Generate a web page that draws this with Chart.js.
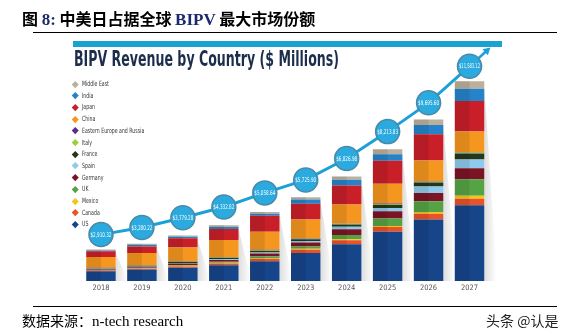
<!DOCTYPE html>
<html>
<head>
<meta charset="utf-8">
<script src="https://cdn.jsdelivr.net/npm/chart.js@4/dist/chart.umd.min.js"></script>
<style>
  html, body { margin:0; padding:0; background:#fff; }
  #wrap { position:relative; width:570px; height:335px; overflow:hidden; background:#fff; }
  #c { position:absolute; left:0; top:0; }
  .abs { position:absolute; white-space:nowrap; }
  #cnTitle { left:22px; top:6px; font:bold 16px "Noto Sans CJK SC", sans-serif; color:#000; }
  #cnTitle .en { font-family:"Liberation Serif", serif; font-weight:bold; color:#1b2a6b; font-size:17px; }
  .rule { position:absolute; height:1px; background:#000; }
  #band { left:73px; top:41px; width:429px; height:6px; background:#19a2d2; }
  #title { left:74px; top:47px; font:bold 21px "Liberation Sans Narrow","DejaVu Sans Condensed", sans-serif; color:#1c2e4c; transform-origin:0 0; }
  .lg { position:absolute; left:72px; width:120px; height:10px; white-space:nowrap; font:7.2px "Liberation Sans Narrow","DejaVu Sans Condensed", sans-serif; color:#333; line-height:10px; }
  .lg i { position:absolute; left:1px; top:2.5px; width:4.5px; height:4.5px; transform:rotate(45deg); }
  .lg span { position:absolute; left:10px; top:0; white-space:nowrap; transform-origin:0 50%; }
  #src { left:22px; top:310px; font:14px "Noto Sans CJK SC", sans-serif; color:#000; }
  #src .en { font-family:"Liberation Serif", serif; font-size:15px; }
  #wm { left:486px; top:310px; font:14px "Noto Sans CJK SC", sans-serif; color:#222; }
</style>
</head>
<body>
<div id="wrap">
  <canvas id="c" width="570" height="335"></canvas>
  <div id="cnTitle" class="abs">图 <span class="en">8:</span> 中美日占据全球 <span class="en">BIPV</span> 最大市场份额</div>
  <div class="rule" style="left:33px;top:32px;width:524px;"></div>
  <div id="band" class="abs"></div>
  <div id="title" class="abs">BIPV Revenue by Country ($ Millions)</div>
  <div id="legend"></div>
  <div class="rule" style="left:33px;top:306px;width:524px;"></div>
  <div id="src" class="abs">数据来源：<span class="en">n-tech research</span></div>
  <div id="wm" class="abs">头条 @认是</div>
</div>
<script>
// ---- data ----
const years = ['2018','2019','2020','2021','2022','2023','2024','2025','2026','2027'];
const countries = ['US','Canada','Mexico','UK','Germany','Spain','France','Italy','Eastern Europe and Russia','China','Japan','India','Middle East'];
const US      = [1835, 1922, 2004, 2142, 2347, 2772, 3233, 3883, 4513, 5250];
const Canada  = [41, 51, 77, 92, 128, 169, 205, 241, 292, 343];
const Mexico  = [15, 20, 31, 36, 46, 51, 51, 51, 102, 154];
const UK      = [15, 20, 41, 51, 82, 118, 220, 394, 548, 855];
const Germany = [41, 51, 77, 97, 143, 205, 292, 374, 425, 563];
const Spain   = [10, 15, 26, 36, 51, 87, 138, 169, 343, 461];
const France  = [31, 41, 61, 77, 97, 87, 118, 169, 205, 307];
const Italy   = [10, 10, 15, 20, 31, 26, 31, 31, 36, 51];
const EEurope = [10, 10, 15, 15, 20, 20, 20, 26, 26, 31];
const China   = [563, 630, 717, 886, 937, 973, 988, 1024, 1075, 1060];
const Japan   = [292, 343, 476, 563, 819, 819, 973, 1193, 1367, 1587];
const India   = [46, 77, 77, 113, 113, 220, 307, 343, 476, 630];
const MidEast = [41, 61, 61, 92, 92, 118, 169, 256, 292, 394];
const totals  = [2910.32, 3280.22, 3779.28, 4332.82, 5058.64, 5725.90, 6826.98, 8213.83, 9695.60, 11583.12];

const series = [US, Canada, Mexico, UK, Germany, Spain, France, Italy, EEurope, China, Japan, India, MidEast];
const colors = ['#17458a','#ea5229','#f7c31b','#56a346','#7d1426','#8fcaec','#25381c','#9ccf3c','#5b2d8c','#f5961f','#c91f29','#2683c9','#bcb09c'];

// ---- legend (HTML, top = Middle East) ----
const lg = document.getElementById('legend');
for (let i = countries.length - 1, row = 0; i >= 0; i--, row++) {
  const d = document.createElement('div');
  d.className = 'lg';
  d.style.top = (79 + row * 11.7) + 'px';
  d.innerHTML = '<i style="background:' + colors[i] + '"></i><span>' + countries[i] + '</span>';
  lg.appendChild(d);
}
// condense legend text so the longest entry is ~62px wide
const spans = lg.querySelectorAll('span');
let maxW = 0;
spans.forEach(s => { maxW = Math.max(maxW, s.offsetWidth); });
const lsc = Math.min(1, 62 / maxW);
spans.forEach(s => { s.style.transform = 'scaleX(' + lsc + ')'; });
// fit title width
const t = document.getElementById('title');
t.style.transform = 'scaleX(' + (265 / t.offsetWidth) + ')';

// ---- plugins ----
const shadowPlugin = {
  id: 'shadow',
  beforeDatasetsDraw(chart) {
    const ctx = chart.ctx, area = chart.chartArea;
    const top = chart.getDatasetMeta(series.length - 1);
    ctx.save();
    top.data.forEach(el => {
      const r = el.x + el.width / 2;
      const g = ctx.createLinearGradient(r, 0, r + 12, 0);
      g.addColorStop(0, 'rgba(0,0,0,0.13)');
      g.addColorStop(1, 'rgba(0,0,0,0)');
      ctx.fillStyle = g;
      ctx.beginPath();
      ctx.moveTo(r, el.y + 4);
      ctx.lineTo(r + 13, area.bottom);
      ctx.lineTo(r, area.bottom);
      ctx.closePath();
      ctx.fill();
    });
    ctx.restore();
  },
  afterDatasetDraw(chart, args) {
    const meta = args.meta;
    if (meta.type !== 'bar') return;
    const ctx = chart.ctx, area = chart.chartArea;
    ctx.save();
    ctx.beginPath();
    ctx.rect(area.left, area.top, area.right - area.left, area.bottom - area.top);
    ctx.clip();
    ctx.fillStyle = 'rgba(0,0,0,0.09)';
    meta.data.forEach(el => {
      const l = el.x - el.width / 2;
      const y1 = Math.min(el.y, el.base), y2 = Math.max(el.y, el.base);
      ctx.fillRect(l, y1, el.width / 2, y2 - y1);
    });
    ctx.restore();
  }
};

const lineLabels = {
  id: 'lineLabels',
  afterDatasetsDraw(chart) {
    const ctx = chart.ctx;
    const meta = chart.getDatasetMeta(series.length);
    const pts = meta.data;
    // arrow extension
    const a = pts[pts.length - 2], b = pts[pts.length - 1];
    const dx = b.x - a.x, dy = b.y - a.y, len = Math.hypot(dx, dy);
    const ux = dx / len, uy = dy / len;
    const sx = b.x + ux * 12, sy = b.y + uy * 12;
    const ex = b.x + ux * 28, ey = b.y + uy * 28;
    ctx.save();
    ctx.strokeStyle = '#1ba0d8'; ctx.lineWidth = 2.5;
    ctx.beginPath(); ctx.moveTo(sx, sy); ctx.lineTo(ex - ux * 3, ey - uy * 3); ctx.stroke();
    ctx.fillStyle = '#1ba0d8';
    ctx.beginPath();
    ctx.moveTo(ex, ey);
    ctx.lineTo(ex - ux * 7 - uy * 4, ey - uy * 7 + ux * 4);
    ctx.lineTo(ex - ux * 7 + uy * 4, ey - uy * 7 - ux * 4);
    ctx.closePath(); ctx.fill();
    // labels
    ctx.fillStyle = '#ffffff';
    ctx.font = '6.5px "Liberation Sans Narrow", "DejaVu Sans Condensed", sans-serif';
    ctx.textAlign = 'center'; ctx.textBaseline = 'middle';
    pts.forEach((p, i) => {
      const s = '$' + totals[i].toLocaleString('en-US', {minimumFractionDigits: 2, maximumFractionDigits: 2});
      const w = ctx.measureText(s).width;
      const sc = Math.min(1, 21 / w);
      ctx.save();
      ctx.translate(p.x, p.y + 0.5);
      ctx.scale(sc, 1);
      ctx.fillText(s, 0, 0);
      ctx.restore();
    });
    ctx.restore();
  }
};

// ---- chart ----
const datasets = series.map((d, i) => ({
  type: 'bar',
  label: countries[i],
  data: d,
  backgroundColor: colors[i],
  borderWidth: 0,
  stack: 's',
  order: 1,
  clip: 0,
  categoryPercentage: 1,
  barPercentage: 0.72
}));
datasets.push({
  type: 'line',
  label: 'Total',
  data: totals,
  yAxisID: 'y2',
  order: 0,
  borderColor: '#1ba0d8',
  borderWidth: 3,
  pointRadius: 12,
  pointBackgroundColor: '#2aaadf',
  pointBorderColor: '#4a8aa6',
  pointBorderWidth: 1.5,
  tension: 0,
  clip: false
});

new Chart(document.getElementById('c'), {
  data: { labels: years, datasets },
  options: {
    responsive: false,
    animation: false,
    devicePixelRatio: 1,
    layout: { padding: { left: 80.5, right: 80, top: 45, bottom: 39 } },
    plugins: { legend: { display: false }, tooltip: { enabled: false }, title: { display: false } },
    scales: {
      x: {
        stacked: true,
        grid: { display: false, drawTicks: false },
        border: { display: false },
        ticks: { color: '#555', font: { size: 7.5, family: '"Liberation Sans Narrow", "DejaVu Sans Condensed", sans-serif' }, padding: 3 }
      },
      y: { stacked: true, display: false, min: 1323, max: 13560 },
      y2: { display: false, min: 521, max: 12675 }
    }
  },
  plugins: [shadowPlugin, lineLabels]
});
</script>
</body>
</html>
